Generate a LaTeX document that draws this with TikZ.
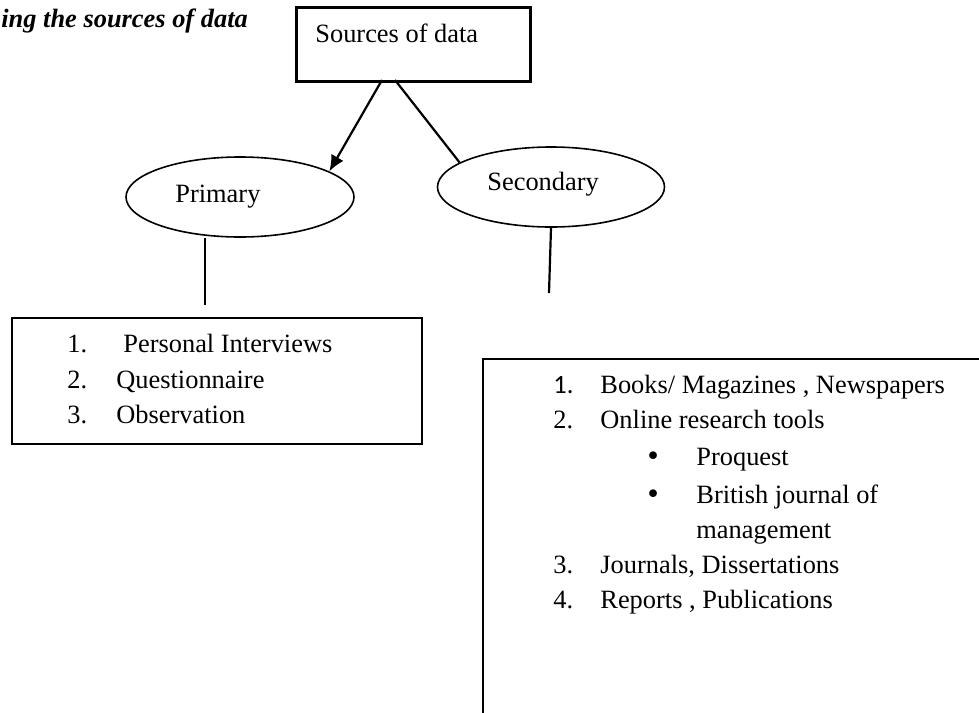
\documentclass[tikz,border=0pt]{standalone}
\usepackage{fontspec}
\setmainfont{Liberation Serif}
\newfontfamily\calfont{Carlito}
\newfontfamily\bulfont{DejaVu Sans}
\usetikzlibrary{shapes.geometric,arrows.meta}
\tikzset{
  txt/.style={anchor=base west, inner sep=0pt, font=\fontsize{13.2pt}{15pt}\selectfont},
  bul/.style={anchor=base west, inner sep=0pt, font=\fontsize{13.2pt}{15pt}\selectfont\bulfont},
  boxline/.style={draw, line width=1pt},
  oval/.style={ellipse, draw, line width=0.8pt, inner sep=0pt},
  link/.style={line width=1.1pt},
}
\begin{document}
\begin{tikzpicture}[x=0.5pt,y=-0.5pt]
\clip (0,0) rectangle (979,712);
\useasboundingbox (0,0) rectangle (979,712);

% title
\node[txt, font=\fontsize{13.2pt}{15pt}\selectfont\bfseries\itshape] (title) at (1,27) {ing the sources of data};

% top box
\node[boxline, line width=1.4pt, rectangle, anchor=north west, minimum width=117pt, minimum height=37pt, inner sep=0pt] (src) at (295,6) {};
\node[txt] (srct) at (315,42) {Sources of data};

% ellipses
\node[oval, minimum width=114pt, minimum height=40pt] (prim) at (240,197) {};
\node[txt] (primt) at (175,202) {Primary};
\node[oval, minimum width=113.5pt, minimum height=40pt] (sec) at (551,187) {};
\node[txt] (sect) at (487,190) {Secondary};

% connectors from top box
\coordinate (a1) at (382,80);
\coordinate (a2) at (395,80);
\draw[link, -{Latex[length=8pt,width=7pt]}] (a1) -- (prim.16);
\draw[link] (a2) -- (sec.165);

% vertical stubs
\coordinate (p1) at (205,305);
\coordinate (s1) at (549,293);
\draw[link] (p1 |- prim.south) -- (p1);
\draw[link] (sec.south) -- (s1);

% primary box
\node[boxline, rectangle, anchor=north west, minimum width=205pt, minimum height=63pt, inner sep=0pt] (pbox) at (11,317) {};
\node[txt] (pn1) at (67,352) {1.};
\node[txt] (pi1) at (123,352) {Personal Interviews};
\node[txt] (pn2) at (67,388) {2.};
\node[txt] (pi2) at (116,388) {Questionnaire};
\node[txt] (pn3) at (67,423) {3.};
\node[txt] (pi3) at (116,423) {Observation};

% secondary box (runs off the page to the right and bottom)
\node[boxline, rectangle, anchor=north west, minimum width=300pt, minimum height=250pt, inner sep=0pt] (sbox) at (482,358) {};
\node[txt, font=\fontsize{13.2pt}{15pt}\selectfont\calfont] (sn1) at (553,393) {1.};
\node[txt] (si1) at (600,393) {Books/ Magazines , Newspapers};
\node[txt] (sn2) at (553,428) {2.};
\node[txt] (si2) at (600,428) {Online research tools};
\node[bul] (sb1) at (645,465) {•};
\node[txt] (sj1) at (696,465) {Proquest};
\node[bul] (sb2) at (645,503) {•};
\node[txt] (sj2) at (696,503) {British journal of};
\node[txt] (sj3) at (696,538) {management};
\node[txt] (sn3) at (553,573) {3.};
\node[txt] (si3) at (600,573) {Journals, Dissertations};
\node[txt] (sn4) at (553,608) {4.};
\node[txt] (si4) at (600,608) {Reports , Publications};
\end{tikzpicture}
\end{document}
